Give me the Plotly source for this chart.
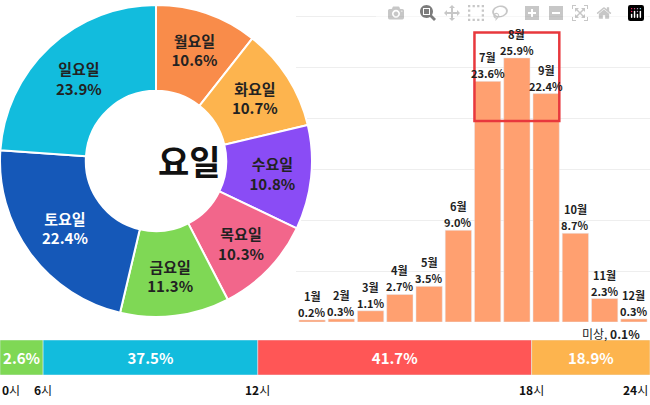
import plotly.graph_objects as go

days = ["월요일", "화요일", "수요일", "목요일", "금요일", "토요일", "일요일"]
day_pct = [10.6, 10.7, 10.8, 10.3, 11.3, 22.4, 23.9]
day_colors = ["#F98C4A", "#FDB44E", "#8A4CF5", "#F2668B", "#7FD855", "#1558B8", "#12BCDD"]
day_text_colors = ["#222", "#222", "#222", "#222", "#222", "white", "#222"]

months = ["1월", "2월", "3월", "4월", "5월", "6월", "7월", "8월", "9월", "10월", "11월", "12월"]
month_pct = [0.2, 0.3, 1.1, 2.7, 3.5, 9.0, 23.6, 25.9, 22.4, 8.7, 2.3, 0.3]

hour_pct = [2.6, 37.5, 41.7, 18.9]
hour_colors = ["#7FD855", "#12BCDD", "#FF5656", "#FDB44E"]
# drawn segment widths as shown in the picture (not to scale)
hour_span = [43, 214, 273, 118]
hour_ticks = ["0", "6", "12", "18", "24"]

fig = go.Figure()

fig.add_trace(go.Pie(
    labels=days, values=day_pct, hole=0.45, sort=False, direction="clockwise",
    rotation=0, marker=dict(colors=day_colors, line=dict(color="white", width=2)),
    text=[f"<b>{d}<br>{p}%</b>" for d, p in zip(days, day_pct)],
    textinfo="text", textposition="inside", insidetextorientation="horizontal",
    textfont=dict(size=15, color=day_text_colors, family="Noto Sans CJK KR"),
    domain=dict(x=[0, 312 / 650], y=[1 - 322 / 405, 1]), showlegend=False,
    hoverinfo="label+value",
))

fig.add_trace(go.Bar(
    x=months, y=month_pct, marker_color="#FFA070", xaxis="x", yaxis="y",
    showlegend=False, width=0.9,
))

base = 0
for pct, col, span in zip(hour_pct, hour_colors, hour_span):
    fig.add_trace(go.Bar(
        x=[span], y=[0], base=base, orientation="h", marker_color=col,
        xaxis="x2", yaxis="y2", showlegend=False, width=1,
        text=[f"<b>{pct}%</b>"], textposition="inside", insidetextanchor="middle",
        textfont=dict(size=15, color="white", family="Noto Sans CJK KR"),
    ))
    base += span

fig.update_layout(
    width=650, height=405, margin=dict(l=0, r=0, t=0, b=0),
    paper_bgcolor="white", plot_bgcolor="white", barmode="overlay",
    font=dict(family="Noto Sans CJK KR", color="#222"),
    xaxis=dict(domain=[296 / 650, 1], showticklabels=False, showgrid=False,
               zeroline=False, range=[-0.55, 11.55]),
    yaxis=dict(domain=[(405 - 322) / 405, (405 - 12) / 405], range=[0, 30.4],
               dtick=5, showticklabels=False, gridcolor="#EEEEEE", zeroline=False),
    xaxis2=dict(domain=[0, 1], range=[0, 648], visible=False),
    yaxis2=dict(domain=[30 / 405, 65 / 405], range=[-0.5, 0.5], visible=False),
    uniformtext=dict(mode="show", minsize=10),
)

fig.add_annotation(text="<b>요일</b>", x=156 / 650, y=1 - 160 / 405, xref="paper", yref="paper",
                   showarrow=False, font=dict(size=34, color="#111"))

for m, p in zip(months, month_pct):
    fig.add_annotation(text=f"<b>{m}</b>", x=m, y=p, xref="x", yref="y", yshift=24,
                       showarrow=False, font=dict(size=11))
    fig.add_annotation(text=f"<b>{p}%</b>", x=m, y=p, xref="x", yref="y", yshift=8,
                       showarrow=False, font=dict(size=11))

fig.add_shape(type="rect", x0=5.55, x1=8.45, y0=19.7, y1=28.4, xref="x", yref="y",
              line=dict(color="#E8383D", width=2.5))

fig.add_annotation(text="미상, <b>0.1%</b>", x=1, y=1 - 323 / 405, xref="paper", yref="paper",
                   xanchor="right", yanchor="top", xshift=-8, showarrow=False,
                   font=dict(size=12))

pos = 0
tick_pos = [0]
for span in hour_span:
    pos += span
    tick_pos.append(pos)
for i, (t, xp) in enumerate(zip(hour_ticks, tick_pos)):
    anchor = "left" if i == 0 else ("right" if i == len(hour_ticks) - 1 else "center")
    fig.add_annotation(text=f"<b>{t}</b>시", x=xp, y=-0.5, xref="x2", yref="y2", yanchor="top",
                       yshift=-4, xanchor=anchor, showarrow=False, font=dict(size=12, color="#111"))

fig.write_html("out.html", post_script="document.body.style.margin='0';")
